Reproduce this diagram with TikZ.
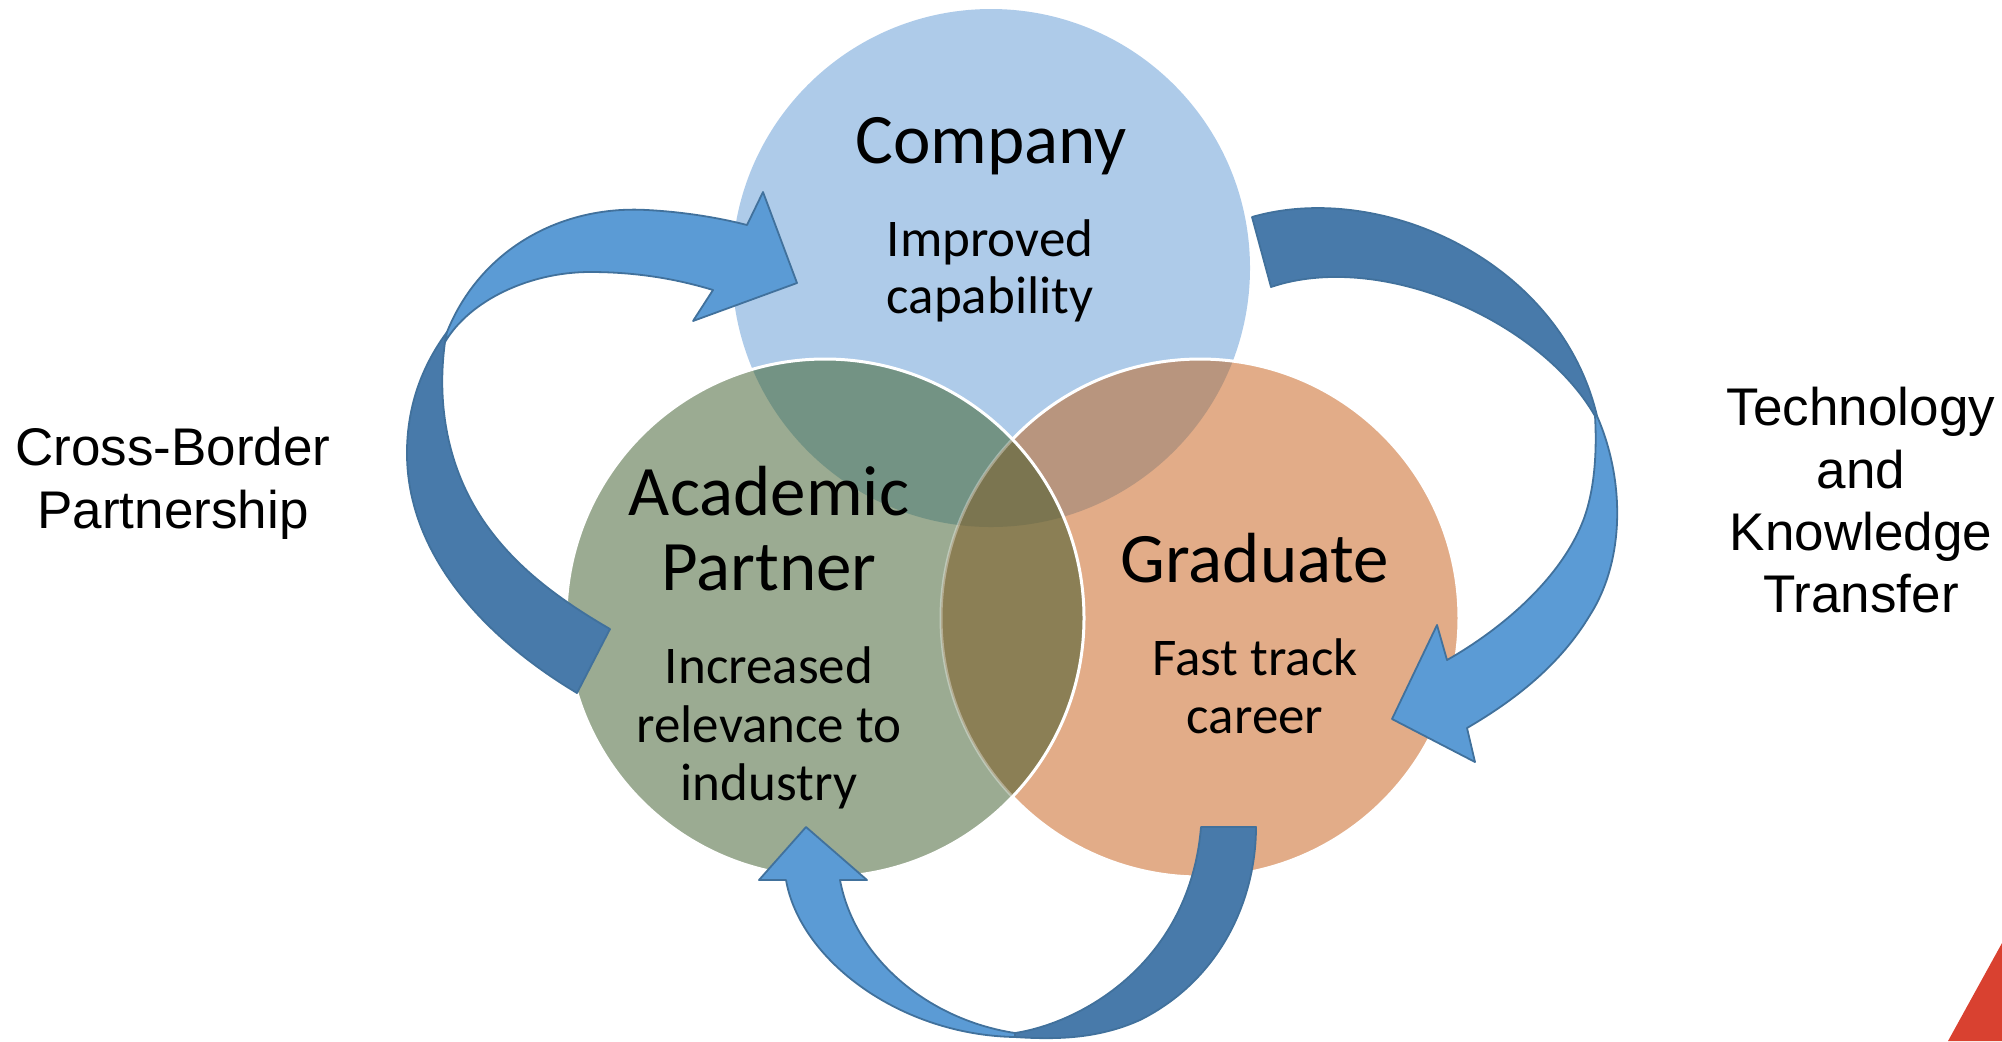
\documentclass[tikz,border=0pt]{standalone}
\usepackage{fontspec}
\newfontfamily\carl{Carlito}
\newfontfamily\arialf{Liberation Sans}
\definecolor{compfill}{RGB}{174,203,233}
\definecolor{acadfill}{RGB}{155,171,146}
\definecolor{gradfill}{RGB}{226,172,136}
\definecolor{cgfill}{RGB}{115,147,132}
\definecolor{cofill}{RGB}{184,149,126}
\definecolor{gofill}{RGB}{139,127,85}
\definecolor{cgofill}{RGB}{123,117,80}
\definecolor{arrowlight}{RGB}{91,155,213}
\definecolor{arrowdark}{RGB}{72,122,170}
\definecolor{arrowline}{RGB}{65,113,156}
\definecolor{redcorner}{RGB}{217,65,48}
\begin{document}
\begin{tikzpicture}[x=0.5pt,y=-0.5pt,
  lightarrow/.style={fill=arrowlight,draw=arrowline,line width=0.9pt,line join=round},
  darkarrow/.style={fill=arrowdark,draw=arrowline,line width=0.9pt,line join=round},
  titletext/.style={font=\carl\fontsize{35.5}{38}\selectfont,anchor=base,inner sep=0pt},
  subtext/.style={font=\carl\fontsize{26.5}{30}\selectfont,anchor=base,inner sep=0pt},
  sidetext/.style={font=\arialf\fontsize{26.5}{31}\selectfont,anchor=base,inner sep=0pt},
  rim/.style={draw=white,line width=1.5pt}]
\useasboundingbox (0,0) rectangle (2002,1041);
\def\R{259}
\coordinate (C) at (991,268);
\coordinate (G) at (825,618);
\coordinate (O) at (1200,618);
% circles
\fill[compfill] (C) circle[radius=\R];
\fill[gradfill] (O) circle[radius=\R];
\fill[acadfill] (G) circle[radius=\R];
\begin{scope}
  \clip (C) circle[radius=\R];
  \fill[cgfill] (G) circle[radius=\R];
  \fill[cofill] (O) circle[radius=\R];
\end{scope}
\begin{scope}
  \clip (G) circle[radius=\R];
  \fill[gofill] (O) circle[radius=\R];
  \clip (C) circle[radius=\R];
  \fill[cgofill] (O) circle[radius=\R];
\end{scope}
\draw[rim] (O) ++(-136.4:\R) arc[start angle=-136.4,end angle=136.4,radius=\R];
\draw[rim,draw opacity=0.35] (O) ++(136.4:\R) arc[start angle=136.4,end angle=223.6,radius=\R];
\draw[rim] (G) circle[radius=\R];
% left arrow (Cross-Border Partnership)
\coordinate (lt1) at (577,693); \coordinate (lt2) at (610,629);
\coordinate (lw1) at (447,332); \coordinate (lw2) at (445,342);
\filldraw[darkarrow] (lt1) .. controls (480,635) and (405,550) .. (407,449)
  .. controls (408,400) and (425,362) .. (lw1) -- (lw2)
  .. controls (437,400) and (445,470) .. (490,530)
  .. controls (520,570) and (560,600) .. (lt2) -- cycle;
\filldraw[lightarrow] (lw1) .. controls (480,250) and (560,205) .. (647,210)
  .. controls (685,212) and (720,218) .. (747,225)
  -- (763,192) -- (797,283) -- (693,321) -- (713,290)
  .. controls (680,280) and (640,272) .. (590,272)
  .. controls (530,272) and (470,300) .. (lw2) -- cycle;
% right arrow (Technology and Knowledge Transfer)
\coordinate (rt1) at (1252,217); \coordinate (rt2) at (1271,287);
\coordinate (rw1) at (1597,416); \coordinate (rw2) at (1595,416);
\filldraw[darkarrow] (rt1) .. controls (1380,180) and (1560,260) .. (rw1) -- (rw2)
  .. controls (1540,320) and (1380,250) .. (rt2) -- cycle;
\filldraw[lightarrow] (rw1) .. controls (1625,480) and (1625,560) .. (1590,615)
  .. controls (1560,665) and (1515,700) .. (1467,728)
  -- (1475,762) -- (1392,719) -- (1437,625) -- (1447,660)
  .. controls (1500,630) and (1560,580) .. (1583,521)
  .. controls (1595,490) and (1597,450) .. (rw2) -- cycle;
% bottom arrow
\coordinate (bt1) at (1256,827); \coordinate (bt2) at (1201,827);
\coordinate (bw1) at (1015,1037); \coordinate (bw2) at (1015,1033);
\filldraw[darkarrow] (bt1) .. controls (1256,900) and (1220,980) .. (1140,1020)
  .. controls (1100,1038) and (1060,1040) .. (bw1) -- (bw2)
  .. controls (1085,1022) and (1190,960) .. (bt2) -- cycle;
\filldraw[lightarrow] (bw1) .. controls (900,1035) and (800,960) .. (786,880)
  -- (759,880) -- (806,827) -- (867,880) -- (840,880)
  .. controls (855,960) and (930,1020) .. (bw2) -- cycle;
% red corner
\fill[redcorner] (2002,943) -- (1948,1041) -- (2002,1041) -- cycle;
% texts
\node[titletext] (ctitle) at (991,163) {Company};
\node[subtext] (csub1) at (990,256) {Improved};
\node[subtext] (csub2) at (990,313) {capability};
\node[titletext] (atitle1) at (769,515) {Academic};
\node[titletext] (atitle2) at (769,590) {Partner};
\node[subtext] (asub1) at (769,683) {Increased};
\node[subtext] (asub2) at (769,742) {relevance to};
\node[subtext] (asub3) at (769,800) {industry};
\node[titletext] (gtitle) at (1255,582) {Graduate};
\node[subtext] (gsub1) at (1255,675) {Fast track};
\node[subtext] (gsub2) at (1255,733) {career};
\node[sidetext] (cb1) at (173,465) {Cross-Border};
\node[sidetext] (cb2) at (173,528) {Partnership};
\node[sidetext] (tk1) at (1861,425) {Technology};
\node[sidetext] (tk2) at (1861,488) {and};
\node[sidetext] (tk3) at (1861,550) {Knowledge};
\node[sidetext] (tk4) at (1861,612) {Transfer};
\end{tikzpicture}
\end{document}
